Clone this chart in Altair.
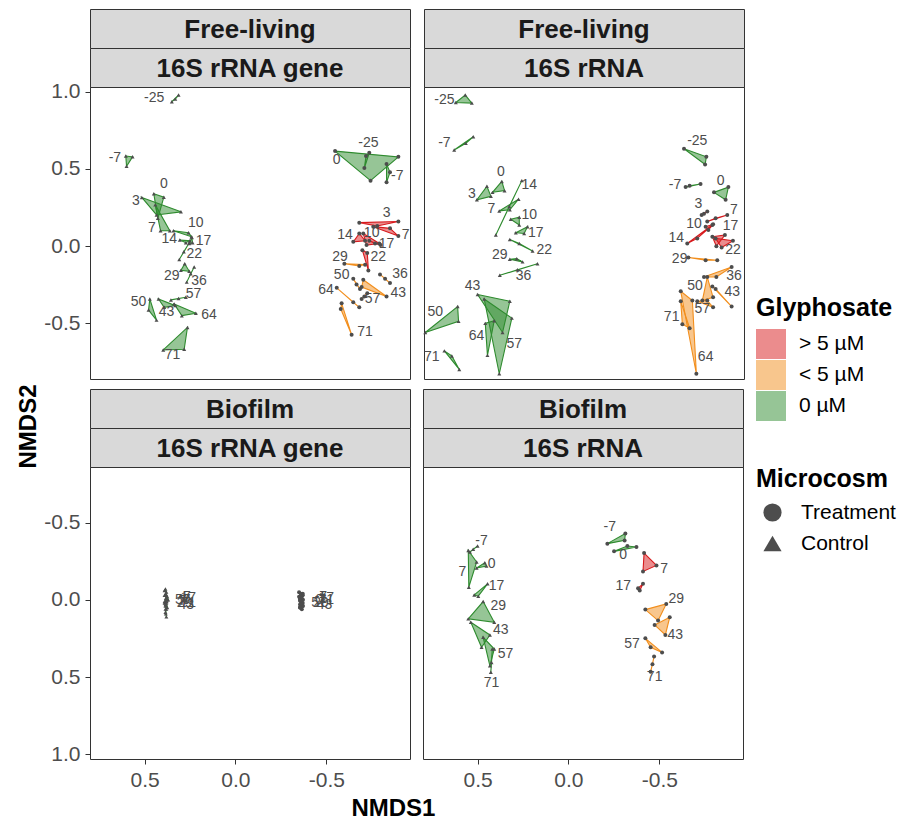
import altair as alt
import pandas as pd

# ---------------- categories ----------------
GLYPH_LEVELS = ["> 5 µM", "< 5 µM", "0 µM"]
FILL_COLORS = ["#D7191C", "#F28E1C", "#2E8B2E"]
# outline colours, listed low-to-high so the outline scale stays separate from the legend scale
LINE_LEVELS = ["0 µM", "< 5 µM", "> 5 µM"]
LINE_COLORS = ["#2E8B2E", "#F28E1C", "#D7191C"]
MICRO_LEVELS = ["Treatment", "Control"]
MICRO_SHAPES = ["circle", "triangle-up"]

FRACTIONS = ["Free-living", "Free-living", "Biofilm", "Biofilm"]
NUCLEIC = ["16S rRNA gene", "16S rRNA", "16S rRNA gene", "16S rRNA"]

DAYS_FL = [-25, -7, 0, 3, 7, 10, 14, 17, 22, 29, 36, 43, 50, 57, 64, 71]
DAYS_BF = [-7, 0, 7, 17, 29, 43, 57, 71]
GLYPH_TRT_FL = ["0 µM"] * 3 + ["> 5 µM"] * 6 + ["< 5 µM"] * 7
GLYPH_TRT_BF = ["0 µM"] * 2 + ["> 5 µM"] * 2 + ["< 5 µM"] * 4

# ---------------- Free-living / 16S rRNA gene ----------------
FLG_CTRL_X = [[0.35, 0.313, 0.331], [0.603, 0.566, 0.599], [0.449, 0.394, 0.427], [0.515, 0.30, 0.434],
              [0.441, 0.412, 0.361], [0.341, 0.258, 0.242], [0.306, 0.273, 0.251], [0.24, 0.236, 0.254],
              [0.309, 0.254, 0.284], [0.30, 0.279, 0.254], [0.268, 0.227, 0.246], [0.423, 0.331, 0.392],
              [0.471, 0.478, 0.434], [0.355, 0.273, 0.313], [0.337, 0.218, 0.295], [0.264, 0.282, 0.397]]
FLG_CTRL_Y = [[0.935, 0.978, 0.952], [0.583, 0.578, 0.517], [0.339, 0.317, 0.18], [0.315, 0.222, 0.202],
              [0.267, 0.10, 0.10], [0.10, 0.087, 0.061], [0.039, 0.022, 0.035], [0.056, 0.022, 0.017],
              [-0.087, 0.022, -0.037], [-0.157, -0.114, -0.163], [-0.233, -0.135, -0.179], [-0.342, -0.385, -0.396],
              [-0.342, -0.414, -0.479], [-0.348, -0.331, -0.339], [-0.374, -0.435, -0.45], [-0.526, -0.668, -0.672]]
FLG_CTRL_LAB = [(0.447, 0.956), (0.663, 0.571), (0.394, 0.404), (0.548, 0.289), (0.46, 0.115), (0.218, 0.147),
                (0.364, 0.043), (0.176, 0.035), (0.227, -0.048), (0.35, -0.196), (0.2, -0.228), (0.379, -0.429),
                (0.533, -0.359), (0.231, -0.309), (0.145, -0.446), (0.346, -0.707)]
FLG_TRT_X = [[-0.736, -0.718, -0.709], [-0.831, -0.85, -0.831], [-0.548, -0.896, -0.743], [-0.681, -0.78, -0.896],
             [-0.758, -0.85, -0.896], [-0.703, -0.791, -0.721], [-0.681, -0.648, -0.713], [-0.736, -0.798, -0.768],
             [-0.698, -0.731, -0.725], [-0.599, -0.681, -0.713], [-0.795, -0.85, -0.823], [-0.703, -0.831, -0.694],
             [-0.648, -0.685, -0.666], [-0.694, -0.725, -0.709], [-0.557, -0.648, -0.681], [-0.584, -0.579, -0.639]]
FLG_TRT_Y = [[0.604, 0.583, 0.506], [0.532, 0.478, 0.413], [0.615, 0.578, 0.424], [0.152, 0.13, 0.159],
             [0.126, 0.115, 0.065], [0.082, 0.017, 0.007], [0.082, 0.028, 0.035], [0.035, 0.007, 0.017],
             [-0.026, -0.157, -0.044], [-0.114, -0.129, -0.12], [-0.183, -0.239, -0.211], [-0.218, -0.326, -0.265],
             [-0.211, -0.277, -0.248], [-0.342, -0.305, -0.326], [-0.27, -0.363, -0.396], [-0.37, -0.407, -0.574]]
FLG_TRT_LAB = [(-0.731, 0.669), (-0.89, 0.457), (-0.557, 0.556), (-0.831, 0.217), (-0.936, 0.072), (-0.749, 0.082),
               (-0.603, 0.072), (-0.831, 0.017), (-0.786, -0.07), (-0.575, -0.07), (-0.905, -0.179), (-0.896, -0.305),
               (-0.584, -0.189), (-0.754, -0.342), (-0.498, -0.287), (-0.713, -0.559)]

# ---------------- Free-living / 16S rRNA ----------------
FLR_CTRL_X = [[0.625, 0.573, 0.537], [0.634, 0.529, 0.57], [0.372, 0.423, 0.357], [0.454, 0.509, 0.432],
              [0.386, 0.28, 0.328], [0.323, 0.276, 0.276], [0.262, 0.405, 0.331], [0.295, 0.231, 0.249],
              [0.328, 0.203, 0.276], [0.328, 0.258, 0.29], [0.383, 0.176, 0.286], [0.505, 0.328, 0.368],
              [0.793, 0.615, 0.61], [0.469, 0.317, 0.386], [0.463, 0.414, 0.451], [0.688, 0.606, 0.647]]
FLR_CTRL_Y = [[0.93, 0.978, 0.926], [0.622, 0.708, 0.665], [0.419, 0.348, 0.359], [0.387, 0.30, 0.322],
              [0.228, 0.304, 0.235], [0.174, 0.187, 0.137], [0.424, 0.072, 0.256], [0.087, 0.126, 0.082],
              [0.043, -0.031, 0.017], [-0.085, -0.102, -0.081], [-0.189, -0.114, -0.153], [-0.313, -0.357, -0.559],
              [-0.559, -0.391, -0.487], [-0.342, -0.466, -0.826], [-0.5, -0.483, -0.707], [-0.678, -0.798, -0.711]]
FLR_CTRL_LAB = [(0.688, 0.948), (0.688, 0.669), (0.377, 0.478), (0.537, 0.339), (0.429, 0.241), (0.221, 0.202),
                (0.221, 0.398), (0.185, 0.087), (0.139, -0.026), (0.383, -0.055), (0.253, -0.196), (0.533, -0.259),
                (0.738, -0.429), (0.304, -0.635), (0.511, -0.581), (0.757, -0.718)]
FLR_TRT_X = [[-0.63, -0.753, -0.746], [-0.639, -0.721, -0.661], [-0.795, -0.874, -0.859], [-0.727, -0.758, -0.74],
             [-0.758, -0.868, -0.804], [-0.749, -0.79, -0.764], [-0.648, -0.786, -0.703], [-0.786, -0.855, -0.808],
             [-0.804, -0.899, -0.837], [-0.654, -0.749, -0.813], [-0.74, -0.892, -0.808], [-0.786, -0.892, -0.804],
             [-0.758, -0.731, -0.79], [-0.703, -0.79, -0.758], [-0.612, -0.676, -0.698], [-0.612, -0.621, -0.661]]
FLR_TRT_Y = [[0.63, 0.578, 0.528], [0.382, 0.402, 0.391], [0.348, 0.382, 0.3], [0.202, 0.224, 0.209],
             [0.159, 0.202, 0.18], [0.126, 0.141, 0.104], [0.017, 0.137, 0.05], [0.061, 0.072, 0.0],
             [0.05, 0.035, -0.009], [-0.074, -0.091, -0.091], [-0.2, -0.135, -0.2], [-0.261, -0.391, -0.277],
             [-0.2, -0.352, -0.331], [-0.357, -0.396, -0.352], [-0.292, -0.352, -0.826], [-0.357, -0.505, -0.531]]
FLR_TRT_LAB = [(-0.703, 0.68), (-0.581, 0.398), (-0.831, 0.419), (-0.709, 0.274), (-0.905, 0.235), (-0.685, 0.144),
               (-0.588, 0.05), (-0.886, 0.13), (-0.899, -0.022), (-0.606, -0.081), (-0.905, -0.196), (-0.896, -0.298),
               (-0.691, -0.261), (-0.731, -0.407), (-0.749, -0.718), (-0.562, -0.457)]

# ---------------- Biofilm / 16S rRNA gene ----------------
BFG_CTRL_X = [[0.385, 0.38, 0.39], [0.383, 0.375, 0.39], [0.38, 0.37, 0.385], [0.383, 0.39, 0.378],
              [0.375, 0.385, 0.39], [0.38, 0.375, 0.385], [0.383, 0.385, 0.38], [0.385, 0.38, 0.383]]
BFG_CTRL_Y = [[-0.07, -0.05, -0.06], [-0.04, -0.02, -0.03], [-0.03, 0.0, 0.01], [-0.01, 0.02, 0.01],
              [0.0, 0.03, 0.01], [0.02, 0.05, 0.04], [0.03, 0.08, 0.06], [0.06, 0.11, 0.09]]
BFG_CTRL_LAB = [(0.28, -0.02), (0.27, 0.0), (0.29, 0.01), (0.26, -0.01), (0.28, 0.02), (0.27, 0.03),
                (0.29, 0.0), (0.26, 0.02)]
BFG_TRT_X = [[-0.35, -0.37, -0.36], [-0.36, -0.35, -0.37], [-0.365, -0.355, -0.37], [-0.36, -0.37, -0.355],
             [-0.355, -0.37, -0.36], [-0.36, -0.37, -0.355], [-0.365, -0.355, -0.37], [-0.36, -0.365, -0.355]]
BFG_TRT_Y = [[-0.05, -0.04, -0.03], [-0.04, -0.02, -0.03], [-0.02, -0.01, 0.0], [-0.01, 0.0, 0.005],
             [0.0, 0.02, 0.03], [0.01, 0.04, 0.03], [0.02, 0.05, 0.04], [0.03, 0.06, 0.05]]
BFG_TRT_LAB = [(-0.47, -0.02), (-0.46, 0.0), (-0.48, 0.01), (-0.5, -0.01), (-0.47, 0.02), (-0.49, 0.03),
               (-0.46, 0.02), (-0.5, 0.0)]

# ---------------- Biofilm / 16S rRNA ----------------
BFR_CTRL_X = [[0.542, 0.5, 0.524], [0.505, 0.46, 0.451], [0.551, 0.505, 0.548], [0.518, 0.445, 0.496],
              [0.551, 0.469, 0.408], [0.537, 0.432, 0.478], [0.469, 0.408, 0.432], [0.419, 0.427, 0.423]]
BFR_CTRL_Y = [[-0.31, -0.349, -0.327], [-0.206, -0.24, -0.219], [-0.32, -0.245, -0.082], [-0.032, -0.104, -0.024],
              [0.123, 0.011, 0.145], [0.145, 0.227, 0.307], [0.242, 0.318, 0.427], [0.318, 0.469, 0.405]]
BFR_CTRL_LAB = [(0.478, -0.379), (0.423, -0.234), (0.584, -0.18), (0.396, -0.089), (0.386, 0.037),
                (0.372, 0.193), (0.346, 0.351), (0.423, 0.539)]
BFR_TRT_X = [[-0.214, -0.313, -0.309], [-0.251, -0.324, -0.374], [-0.416, -0.484, -0.41], [-0.41, -0.392, -0.383],
             [-0.423, -0.538, -0.493], [-0.474, -0.557, -0.533], [-0.423, -0.515, -0.452], [-0.471, -0.452, -0.462]]
BFR_TRT_Y = [[-0.364, -0.429, -0.385], [-0.314, -0.349, -0.342], [-0.303, -0.223, -0.184], [-0.104, -0.06, -0.076],
             [0.063, 0.026, 0.134], [0.162, 0.112, 0.227], [0.249, 0.34, 0.307], [0.366, 0.466, 0.416]]
BFR_TRT_LAB = [(-0.227, -0.472), (-0.301, -0.292), (-0.526, -0.201), (-0.301, -0.089), (-0.593, -0.006),
               (-0.588, 0.227), (-0.35, 0.286), (-0.474, 0.502)]

PANELS = [
    (DAYS_FL, FLG_CTRL_X, FLG_CTRL_Y, FLG_CTRL_LAB, FLG_TRT_X, FLG_TRT_Y, FLG_TRT_LAB, GLYPH_TRT_FL),
    (DAYS_FL, FLR_CTRL_X, FLR_CTRL_Y, FLR_CTRL_LAB, FLR_TRT_X, FLR_TRT_Y, FLR_TRT_LAB, GLYPH_TRT_FL),
    (DAYS_BF, BFG_CTRL_X, BFG_CTRL_Y, BFG_CTRL_LAB, BFG_TRT_X, BFG_TRT_Y, BFG_TRT_LAB, GLYPH_TRT_BF),
    (DAYS_BF, BFR_CTRL_X, BFR_CTRL_Y, BFR_CTRL_LAB, BFR_TRT_X, BFR_TRT_Y, BFR_TRT_LAB, GLYPH_TRT_BF),
]

rows, labs = [], []
for p, (days, cx, cy, cl, tx, ty, tl, tg) in enumerate(PANELS):
    sets = [("Control", cx, cy, cl, ["0 µM"] * len(days)), ("Treatment", tx, ty, tl, tg)]
    for micro, xs, ys, ll, gl in sets:
        for i, d in enumerate(days):
            for r in range(3):
                rows.append(dict(panel=p, day=d, micro=micro, glyph=gl[i], grp=f"{micro}_{d}",
                                 rep=r, x=xs[i][r], y=ys[i][r]))
            labs.append(dict(panel=p, day=str(d), x=ll[i][0], y=ll[i][1]))
DF = pd.DataFrame(rows)
LAB = pd.DataFrame(labs)

FONT = "Liberation Sans, Arial, sans-serif"
W, H, SH = 320, 292, 39

fill_legend = alt.Legend(title="Glyphosate", orient="none", legendX=666, legendY=287,
                         symbolType="square", symbolSize=900, symbolOpacity=0.5, symbolStrokeWidth=0,
                         labelFontSize=21, titleFontSize=25, titleFontWeight="bold", rowPadding=1,
                         labelOffset=13, titlePadding=8, titleColor="black", labelColor="black")
shape_legend = alt.Legend(title="Microcosm", orient="none", legendX=666, legendY=458,
                          symbolSize=330, symbolFillColor="#4D4D4D", symbolStrokeColor="#4D4D4D",
                          symbolStrokeWidth=0, symbolOffset=6, labelFontSize=21, titleFontSize=25,
                          titleFontWeight="bold", rowPadding=9, labelOffset=18, titlePadding=10,
                          titleColor="black", labelColor="black")

LABEL_EXPR = "datum.value < 0 ? '-' + format(-datum.value, '.1f') : format(datum.value, '.1f')"


def strip(text):
    return alt.Chart(pd.DataFrame({"t": [text]})).mark_text(
        fontSize=26, fontWeight="bold", color="#1A1A1A", font=FONT, baseline="middle", align="center"
    ).encode(text="t:N", x=alt.value(W / 2), y=alt.value(SH / 2 + 1)).properties(
        width=W, height=SH, view=alt.ViewBackground(fill="#D9D9D9", stroke="#333333", strokeWidth=1))


def panel(p):
    show_x = p >= 2
    show_y = p % 2 == 0
    pts = DF[DF.panel == p]
    lb = LAB[LAB.panel == p]
    xsc = alt.Scale(domain=[-0.96, 0.80], reverse=True, nice=False, zero=False)
    ysc = alt.Scale(domain=[-0.86, 1.03], reverse=(p >= 2), nice=False, zero=False)
    if show_x:
        xax = alt.Axis(title=None, values=[-0.5, 0.0, 0.5], labelExpr=LABEL_EXPR, grid=False, domain=False)
    else:
        xax = None
    if show_y:
        yax = alt.Axis(title=None, values=[-0.5, 0.0, 0.5, 1.0], labelExpr=LABEL_EXPR, grid=False, domain=False)
    else:
        yax = None

    fill_scale = alt.Scale(domain=GLYPH_LEVELS, range=FILL_COLORS)
    hull = alt.Chart(pts).mark_line(interpolate="linear-closed", strokeWidth=1.1, fillOpacity=0.5).encode(
        x=alt.X("x:Q", scale=xsc, axis=xax),
        y=alt.Y("y:Q", scale=ysc, axis=yax),
        color=alt.Color("glyph:N", scale=alt.Scale(domain=LINE_LEVELS, range=LINE_COLORS), legend=None),
        fill=alt.Fill("glyph:N", scale=fill_scale, legend=fill_legend),
        detail="grp:N",
        order="rep:Q",
    )
    keys = alt.Chart(pts).mark_square(size=0, fillOpacity=0.5, strokeWidth=0).encode(
        x="x:Q", y="y:Q",
        fill=alt.Fill("glyph:N", scale=fill_scale, legend=fill_legend),
    )
    dots = alt.Chart(pts).mark_point(filled=True, size=16, opacity=1, color="#4D4D4D").encode(
        x="x:Q", y="y:Q",
        shape=alt.Shape("micro:N", scale=alt.Scale(domain=MICRO_LEVELS, range=MICRO_SHAPES), legend=shape_legend),
    )
    text = alt.Chart(lb).mark_text(fontSize=14, color="#4D4D4D", font=FONT).encode(
        x="x:Q", y="y:Q", text="day:N")
    return alt.layer(hull, keys, dots, text).properties(width=W, height=H)


def cell(p):
    return alt.vconcat(strip(FRACTIONS[p]), strip(NUCLEIC[p]), panel(p), spacing=0, bounds="flush")


top = alt.hconcat(cell(0), cell(1), spacing=11)
bottom = alt.hconcat(cell(2), cell(3), spacing=11).properties(
    title=alt.TitleParams("NMDS1", orient="bottom", anchor="middle", fontSize=24, fontWeight="bold",
                          color="black", font=FONT, offset=6))
chart = alt.vconcat(top, bottom, spacing=8).properties(
    title=alt.TitleParams("NMDS2", orient="left", anchor="middle", fontSize=24, fontWeight="bold",
                          color="black", font=FONT, offset=2, dx=-12),
    padding={"left": 17, "top": 8, "right": 5, "bottom": 0}, background="white"
).configure_view(stroke="#333333", strokeWidth=1).configure_axis(
    labelFont=FONT, labelFontSize=21, labelColor="#4D4D4D", tickColor="#333333", tickSize=5,
    labelPadding=5
).configure_legend(labelFont=FONT, titleFont=FONT).configure_text(font=FONT)

chart.save("out.html", embed_options={"renderer": "svg", "actions": False})
